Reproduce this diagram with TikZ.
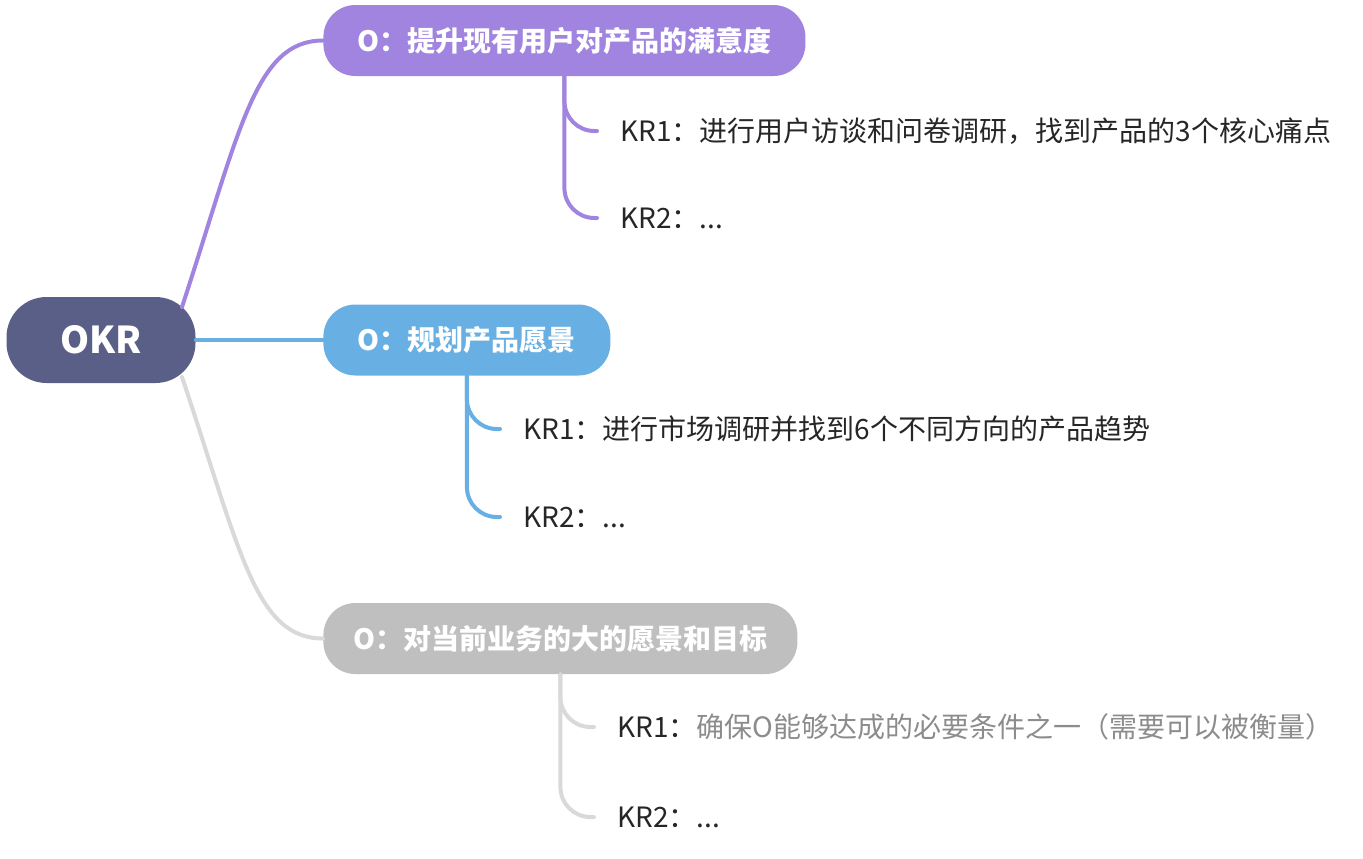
\documentclass[tikz,border=0pt]{standalone}
\usepackage{fontspec}
\setmainfont{Noto Sans CJK SC}
\usepackage{tikz}
\usetikzlibrary{positioning}
\usepackage{xcolor}
\definecolor{rootfill}{HTML}{5A5F87}
\definecolor{purp}{HTML}{A084DF}
\definecolor{sky}{HTML}{68B0E3}
\definecolor{greynode}{HTML}{BFBFBF}
\definecolor{greyline}{HTML}{D9D9D9}
\definecolor{krtext}{HTML}{262626}
\definecolor{krgrey}{HTML}{8C8C8C}

\begin{document}
\begin{tikzpicture}[
  x=0.5pt, y=-0.5pt,
  font=\fontsize{14pt}{17pt}\selectfont,
  root/.style={fill=rootfill, text=white, rounded corners=20pt,
               minimum width=94.5pt, minimum height=43pt,
               font=\fontsize{18.5pt}{22pt}\selectfont\bfseries},
  obj/.style={fill=#1, text=white, anchor=west, rounded corners=16pt,
              minimum height=35.5pt, inner sep=0pt,
              font=\fontsize{14pt}{17pt}\selectfont\bfseries},
  kr/.style={anchor=west, inner xsep=11.5pt, text=krtext},
  link/.style={draw=#1, line width=2pt, line cap=round},
  branch/.style={link=#1, rounded corners=15pt},
]
\useasboundingbox (0,0) rectangle (1363,858);

% root
\node[root] (okr) at (101,340) {OKR};

% objectives
\node[obj=purp, minimum width=241pt] (o1) at (323,40.5) {O：提升现有用户对产品的满意度};
\node[obj=sky, minimum width=143.5pt] (o2) at (323,340) {O：规划产品愿景};
\node[obj=greynode, minimum width=237pt] (o3) at (323,638.5) {O：对当前业务的大的愿景和目标};

\draw[link=purp] ([shift={(81,-33)}]okr.center) .. controls (240,130) and (255,40.5) .. (o1.west);
\draw[link=sky] (okr.east) -- (o2.west);
\draw[link=greyline] ([shift={(81,37)}]okr.center) .. controls (240,550) and (255,638.5) .. (o3.west);

% key results
\node[kr] (o1k1) at (597,131) {KR1：进行用户访谈和问卷调研，找到产品的3个核心痛点};
\node[kr] (o2k1) at (500,429) {KR1：进行市场调研并找到6个不同方向的产品趋势};
\node[kr] (o3k1) at (594,727) {KR1：\textcolor{krgrey}{确保O能够达成的必要条件之一（需要可以被衡量）}};
\foreach \o/\x/\y in {o1/597/218, o2/500/517, o3/594/817} {
  \node[kr] (\o k2) at (\x,\y) {KR2：...};
}

\draw[branch=purp] (o1.south) |- (o1k1.west);
\draw[branch=purp] (o1.south) |- (o1k2.west);
\draw[branch=sky] (o2.south) |- (o2k1.west);
\draw[branch=sky] (o2.south) |- (o2k2.west);
\draw[branch=greyline] (o3.south) |- (o3k1.west);
\draw[branch=greyline] (o3.south) |- (o3k2.west);
\end{tikzpicture}
\end{document}
